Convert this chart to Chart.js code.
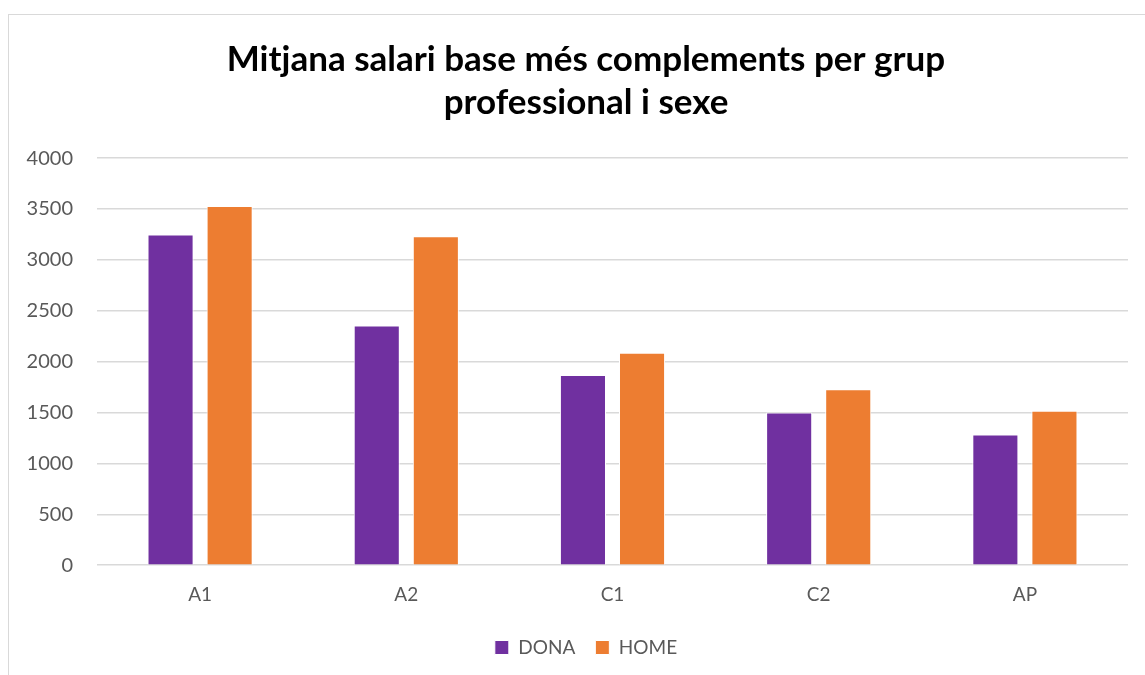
<!DOCTYPE html>
<html>
<head>
<meta charset="utf-8">
<script src="https://cdn.jsdelivr.net/npm/chart.js"></script>
<style>
html,body{margin:0;padding:0;background:#fff;overflow:hidden;}
#frame{position:absolute;left:8px;top:14px;width:1200px;height:700px;border:1px solid #d9d9d9;box-sizing:border-box;}
#wrap{position:absolute;left:0;top:0;width:1145px;height:675px;}
</style>
</head>
<body>
<div id="frame"></div>
<div id="wrap"><canvas id="c" width="1145" height="675"></canvas></div>
<script>
const categories = ["A1", "A2", "C1", "C2", "AP"];
const dona = [3250, 2355, 1870, 1500, 1285];
const home = [3530, 3232, 2088, 1730, 1517];
const seriesNames = ["DONA", "HOME"];
const titleLines = ["Mitjana salari base més complements per grup", "professional i sexe"];

const FONT = "Lato, 'Open Sans', sans-serif";

new Chart(document.getElementById('c'), {
  type: 'bar',
  data: {
    labels: categories,
    datasets: [
      { label: seriesNames[0], data: dona, backgroundColor: '#7030A0', borderColor: '#ffffff', borderWidth: 1 },
      { label: seriesNames[1], data: home, backgroundColor: '#ED7D31', borderColor: '#ffffff', borderWidth: 1 }
    ]
  },
  options: {
    responsive: false,
    animation: false,
    devicePixelRatio: 1,
    layout: { padding: { left: 44, right: 17, top: 20, bottom: 8 } },
    datasets: { bar: { categoryPercentage: 0.573, barPercentage: 0.78 } },
    plugins: {
      title: {
        display: true,
        text: titleLines,
        color: '#000000',
        font: { family: FONT, size: 35, weight: 'bold', lineHeight: 1.23 },
        padding: { top: 18, bottom: 34 }
      },
      legend: {
        position: 'bottom',
        labels: {
          color: '#595959',
          font: { family: FONT, size: 19 },
          boxWidth: 14, boxHeight: 14, padding: 20,
          useBorderRadius: false
        }
      },
      tooltip: { enabled: false }
    },
    scales: {
      x: {
        afterFit: s => { s.height = s.height + 2; },
        grid: { display: false },
        border: { display: false },
        ticks: { color: '#595959', font: { family: FONT, size: 19 }, padding: 10 }
      },
      y: {
        min: 0, max: 4000,
        afterFit: s => { s.width = 53; s._computeLabelArea = () => undefined; },
        grid: { color: '#d9d9d9', lineWidth: 1.5, drawTicks: false },
        border: { display: false },
        ticks: {
          stepSize: 500, color: '#595959', font: { family: FONT, size: 20 }, padding: 24,
          callback: v => String(v)
        }
      }
    }
  }
});
</script>
</body>
</html>
